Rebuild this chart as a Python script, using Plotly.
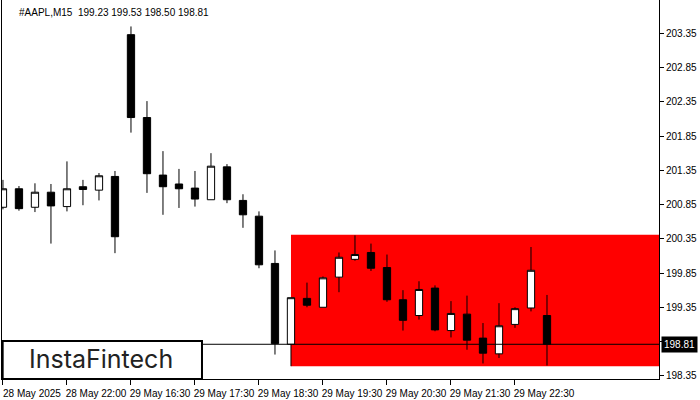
import plotly.graph_objects as go

# ---- data ----
symbol_header = "#AAPL,M15\u00a0\u00a0199.23 199.53 198.50 198.81"

opens  = [200.81, 201.08, 200.81, 201.03, 200.82, 201.11, 201.06, 201.26, 203.33, 202.12,
          201.28, 201.15, 201.09, 200.92, 201.40, 200.91, 200.68, 199.99, 198.81, 199.48,
          199.35, 199.79, 200.05, 200.15, 199.93, 199.46, 199.23, 199.63, 199.01, 199.25,
          198.90, 198.67, 199.10, 199.34, 199.23]
highs  = [201.21, 201.12, 201.16, 201.15, 201.48, 201.21, 201.31, 201.34, 203.45, 202.36,
          201.63, 201.37, 201.34, 201.60, 201.44, 201.00, 200.75, 200.18, 199.49, 199.71,
          199.80, 200.15, 200.40, 200.28, 200.12, 199.60, 199.73, 199.67, 199.44, 199.52,
          199.12, 199.41, 199.35, 200.23, 199.53]
lows   = [200.78, 200.76, 200.74, 200.28, 200.75, 200.84, 200.91, 200.14, 201.90, 201.02,
          200.70, 200.80, 200.82, 200.92, 200.87, 200.51, 199.92, 198.66, 198.49, 199.35,
          199.35, 199.57, 200.03, 199.88, 199.43, 199.01, 199.17, 199.00, 198.91, 198.73,
          198.53, 198.61, 199.05, 199.29, 198.50]
closes = [201.08, 200.79, 201.03, 200.83, 201.08, 201.07, 201.27, 200.38, 202.12, 201.30,
          201.11, 201.08, 200.93, 201.41, 200.92, 200.70, 199.97, 198.82, 199.49, 199.38,
          199.78, 200.08, 200.12, 199.92, 199.46, 199.16, 199.61, 199.02, 199.26, 198.87,
          198.68, 199.08, 199.33, 199.89, 198.81]

x_tick_labels = ["28 May 2025", "28 May 22:00", "29 May 16:30", "29 May 17:30",
                 "29 May 18:30", "29 May 19:30", "29 May 20:30", "29 May 21:30",
                 "29 May 22:30"]
x_tick_step = 4
y_tick_values = [198.35, 198.85, 199.35, 199.85, 200.35, 200.85, 201.35, 201.85,
                 202.35, 202.85, 203.35]

rect_start_bar = 18
rect_top = 200.41
rect_bottom = 198.49
last_price = 198.81
logo_text = "InstaFintech"

# ---- figure ----
x = list(range(len(opens)))
x_tick_vals = [i * x_tick_step for i in range(len(x_tick_labels))]

fig = go.Figure()
fig.add_trace(go.Candlestick(
    x=x, open=opens, high=highs, low=lows, close=closes,
    increasing=dict(line=dict(color="black", width=1), fillcolor="white"),
    decreasing=dict(line=dict(color="black", width=1), fillcolor="black"),
    whiskerwidth=0, showlegend=False, hoverinfo="skip",
))

X_MAX = 41.0
fig.update_layout(
    width=700, height=400,
    margin=dict(l=2, r=41, t=0, b=21, autoexpand=False),
    paper_bgcolor="white", plot_bgcolor="white",
    font=dict(family="Liberation Sans", size=10, color="black"),
    showlegend=False,
    boxgap=0.35,
    xaxis=dict(
        range=[-0.06, X_MAX], rangeslider=dict(visible=False),
        showgrid=False, zeroline=False,
        showline=True, linecolor="black", linewidth=1,
        ticks="outside", ticklen=5, tickcolor="black", tickwidth=1,
        tickvals=x_tick_vals, ticktext=x_tick_labels,
        ticklabelshift=29, tickfont=dict(size=10),
    ),
    yaxis=dict(
        range=[198.303, 203.836], side="right",
        showgrid=False, zeroline=False,
        showline=True, mirror=True, linecolor="black", linewidth=1,
        ticks="outside", ticklen=4, tickcolor="black", tickwidth=1,
        tickvals=y_tick_values, ticktext=[f"{v:.2f}" for v in y_tick_values],
        tickfont=dict(size=10),
    ),
)

# red pattern rectangle (behind candles)
fig.add_shape(type="rect", xref="x", yref="y",
              x0=rect_start_bar, x1=X_MAX, y0=rect_bottom, y1=rect_top,
              fillcolor="#ff0000", line=dict(width=0), layer="below")
# last price line (above candles)
fig.add_shape(type="line", xref="paper", yref="y", x0=0, x1=1,
              y0=last_price, y1=last_price,
              line=dict(color="black", width=1), layer="above")
# logo box
fig.add_shape(type="rect", xref="paper", yref="paper",
              x0=0.001, x1=0.3044, y0=0.0, y1=0.1003,
              fillcolor="white", line=dict(color="black", width=2), layer="above")

fig.add_annotation(x=0.1507, y=0.0515, xref="paper", yref="paper",
                   text=logo_text, showarrow=False, xanchor="center", yanchor="middle",
                   font=dict(family="Inter", size=25, color="#222222"))
fig.add_annotation(x=0.0228, y=0.968, xref="paper", yref="paper",
                   text=symbol_header, showarrow=False, xanchor="left", yanchor="middle",
                   font=dict(size=10, color="black"))
fig.add_annotation(x=1, y=last_price, xref="paper", yref="y",
                   text=f"{last_price:.2f}", showarrow=False, xanchor="left", yanchor="middle",
                   xshift=2, bgcolor="black", borderpad=2,
                   font=dict(size=10, color="white"))

fig.write_html("out.html",
               config={"displayModeBar": False},
               post_script="document.body.style.margin='0px';document.body.style.overflow='hidden';")
